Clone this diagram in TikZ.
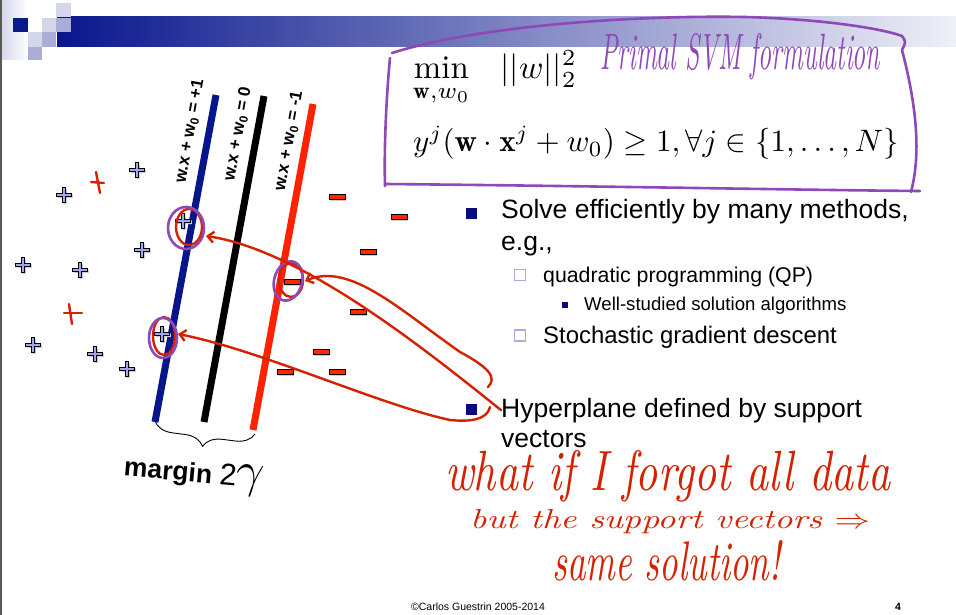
\documentclass[tikz,border=0pt]{standalone}
\usepackage{fontspec}
\setsansfont{Liberation Sans}
\usepackage{amsmath,graphicx}
\usetikzlibrary{calc,positioning,arrows.meta,decorations.pathreplacing}

\definecolor{barnavy}{RGB}{8,22,140}
\definecolor{barlight}{RGB}{240,240,248}
\definecolor{sqdark}{RGB}{10,26,140}
\definecolor{sqmid}{RGB}{170,173,216}
\definecolor{sqlight}{RGB}{212,214,234}
\definecolor{linered}{RGB}{255,34,0}
\definecolor{plusblue}{RGB}{160,166,235}
\definecolor{minusred}{RGB}{255,40,0}
\definecolor{inkred}{RGB}{212,34,0}
\definecolor{penpurple}{RGB}{142,72,184}
\definecolor{bulnavy}{RGB}{10,10,128}
\definecolor{hollowsq}{RGB}{170,170,220}

\tikzset{
  bul/.style={fill=bulnavy, minimum size=11pt, inner sep=0pt},
  hsq/.style={draw=hollowsq, line width=1.3pt, fill=white, minimum size=11pt, inner sep=0pt},
  ssq/.style={fill=bulnavy, minimum size=6pt, inner sep=0pt},
  slide/.style={font=\sffamily\fontsize{#1}{#1}\selectfont, anchor=base west, inner sep=0pt},
  lbl/.style={font=\sffamily\bfseries\fontsize{17}{17}\selectfont, inner sep=0pt, rotate=80},
  hand/.style={anchor=base west, inner sep=0pt, font=\itshape},
  ink/.style={draw=inkred, line width=2.4pt, line cap=round, line join=round},
  pen/.style={draw=penpurple, line width=2.6pt, line cap=round, line join=round},
  barb/.style={-{Straight Barb[length=6pt,width=11pt]}},
  plusmark/.pic={
    \fill[black!20, shift={(1.3,1.3)}] (-7.5,-1.9) -- (-1.9,-1.9) -- (-1.9,-7.5) -- (1.9,-7.5) -- (1.9,-1.9) -- (7.5,-1.9) -- (7.5,1.9) -- (1.9,1.9) -- (1.9,7.5) -- (-1.9,7.5) -- (-1.9,1.9) -- (-7.5,1.9) -- cycle;
    \filldraw[fill=plusblue, draw=black, line width=0.9pt] (-7.5,-1.9) -- (-1.9,-1.9) -- (-1.9,-7.5) -- (1.9,-7.5) -- (1.9,-1.9) -- (7.5,-1.9) -- (7.5,1.9) -- (1.9,1.9) -- (1.9,7.5) -- (-1.9,7.5) -- (-1.9,1.9) -- (-7.5,1.9) -- cycle;
  },
  minusmark/.pic={
    \fill[black!20] (-6.7,-1.5) rectangle (9.3,4.1);
    \filldraw[fill=minusred, draw=black, line width=0.9pt] (-8,-2.8) rectangle (8,2.8);
  }
}

\begin{document}
\begin{tikzpicture}[x=1pt, y=-1pt]
\useasboundingbox (0,0) rectangle (956,615);
\fill[white] (0,0) rectangle (956,615);

% title bar and squares
\shade[left color=sqlight, right color=white] (0,0) rectangle (28,60);
\fill[black!65] (0,0) rectangle (1.6,615);
\shade[left color=barnavy, right color=barlight] (57,17) rectangle (956,47);
\fill[sqdark] (13,18) rectangle (28,32);
\fill[sqlight] (56,3) rectangle (71,17);
\fill[sqlight] (42,18) rectangle (56,32);
\fill[sqmid] (56,18) rectangle (71,32);
\fill[sqlight] (28,32) rectangle (42,47);
\fill[sqmid] (42,32) rectangle (56,47);
\fill[sqmid] (28,47) rectangle (42,60);

% hyperplanes
\draw[line width=7pt, barnavy] (216,95) -- (155,422);
\draw[line width=7pt, black] (264,96) -- (204,422);
\draw[line width=7pt, linered] (313,104) -- (253,430);
\node[lbl] (lblA) at (190,131) {w.x + w\textsubscript{0} = +1};
\node[lbl] (lblB) at (238,134) {w.x + w\textsubscript{0} = 0};
\node[lbl] (lblC) at (289,141) {w.x + w\textsubscript{0} = -1};

% margin
\draw[line width=0.9pt, decorate, decoration={brace, amplitude=19pt}] (255,434) -- (155,421);
\node[inner sep=0pt, rotate=-5, font=\sffamily\fontsize{26.5}{27}\selectfont] (marg) at (194,476) {\textbf{margin} \scalebox{1.15}{2}\scalebox{2}{$\gamma$}};

% data points
\foreach \x/\y in {137/170, 64/195, 142/250, 23/265, 80/270, 33/345, 95/354, 127/369}
  {\pic at (\x,\y) {plusmark};}
\foreach \x/\y in {337/197, 399/217, 368/252, 358/312, 321/352, 285/372, 337/372}
  {\pic at (\x,\y) {minusmark};}
\coordinate (svA) at (183,221);
\coordinate (svB) at (162,334);
\coordinate (svC) at (292,282);
\pic at (svA) {plusmark};
\pic at (svB) {plusmark};
\pic at (svC) {minusmark};

% handwritten plus signs
\draw[ink] (96,172) -- (100,193);
\draw[ink] (91,182) -- (104,183);
\draw[ink] (69,304) -- (72,324);
\draw[ink] (64,313) -- (82,313);

% circled support vectors
\draw[ink] ($(svA)+(6,6)$) ellipse [x radius=13, y radius=18];
\draw[pen] ($(svA)+(3,7)$) ellipse [x radius=18, y radius=21];
\draw[ink] ($(svB)+(2,2)$) ellipse [x radius=11, y radius=19];
\draw[pen] ($(svB)+(1,4)$) ellipse [x radius=14, y radius=20];
\draw[ink] ($(svC)+(-1,-2)$) ellipse [x radius=12, y radius=17];
\draw[pen, rotate around={-15:($(svC)+(-4,0)$)}] ($(svC)+(-4,0)$) ellipse [x radius=14, y radius=20];

% formula box
\node[anchor=base west, inner sep=0pt] (obj) at (413,79) {\scalebox{3.3}{$\displaystyle\min_{\mathbf{w},w_0}\mkern14mu ||w||_2^2$}};
\node[anchor=base west, inner sep=0pt] (cons) at (413,152) {\scalebox{3.1}{$y^j(\mathbf{w}\cdot\mathbf{x}^j+w_0)\geq 1,\forall j\in\{1,\ldots,N\}$}};
\node[hand, text=penpurple] (primal) at (600,70) {\resizebox{280pt}{36pt}{Primal SVM formulation}};
\draw[pen] (392,53) .. controls (480,25) and (640,15) .. (745,17) .. controls (820,19) and (880,28) .. (902,36);
\draw[pen] (902,36) .. controls (906,42) .. (902,50) .. controls (915,100) and (922,150) .. (911,192);
\draw[pen] (385,184) .. controls (600,186) and (800,190) .. (920,191);
\draw[pen] (390,58) .. controls (386,100) and (384,150) .. (385,186);

% bullets
\node[bul] (b1) at (471.5,213) {};
\node[slide=26.5] (t1) at (501,218) {Solve efficiently by many methods,};
\node[slide=26.5] (t1b) at (501,250) {e.g.,};
\node[hsq] (b2) at (520,275) {};
\node[slide=21.3] (t2) at (543,282) {quadratic programming (QP)};
\node[ssq] (b3) at (565,305) {};
\node[slide=18.6] (t3) at (584,310) {Well-studied solution algorithms};
\node[hsq] (b4) at (520,335.5) {};
\node[slide=23.9] (t4) at (543,343) {Stochastic gradient descent};
\node[bul] (b5) at (471.5,409.5) {};
\node[slide=26.5] (t5) at (501,417) {Hyperplane defined by support};
\node[slide=26.5] (t5b) at (501,447) {vectors};

% annotation arrows
\coordinate (hookB) at (488,387);
\coordinate (hookC) at (490,407);
\draw[ink, barb] (t5.west) .. controls (420,345) and (300,250) .. ($(svA)+(23,15)$);
\draw[ink, barb] (hookB) .. controls (497,378) and (490,368) .. (460,352) .. controls (400,310) and (350,262) .. ($(svC)+(13,-1)$);
\draw[ink, barb] (hookC) .. controls (487,420) and (470,422) .. (450,420) .. controls (380,405) and (260,350) .. ($(svB)+(16,0)$);

% handwritten note
\node[hand, text=inkred] (note1) at (445,490) {\resizebox{445pt}{40pt}{what if I forgot all data}};
\node[hand, text=inkred] (note2) at (470,528) {\resizebox{400pt}{19pt}{but the support vectors $\Rightarrow$}};
\node[hand, text=inkred] (note3) at (552,580) {\resizebox{228pt}{40pt}{same solution!}};

% footer
\node[font=\sffamily\fontsize{10.5}{12}\selectfont, inner sep=0pt] (foot) at (478,607) {©Carlos Guestrin 2005-2014};
\node[font=\sffamily\bfseries\fontsize{10.5}{12}\selectfont, inner sep=0pt] (pnum) at (898,607) {4};
\end{tikzpicture}
\end{document}
